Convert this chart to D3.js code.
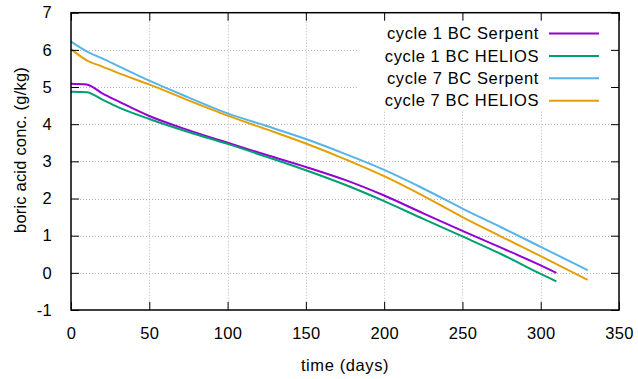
<!DOCTYPE html>
<html>
<head>
<meta charset="utf-8">
<script src="https://cdnjs.cloudflare.com/ajax/libs/d3/7.8.5/d3.min.js"></script>
<style>
body{margin:0;background:#fff}
svg{display:block}
text{font-family:"Liberation Sans",Arial,sans-serif;fill:#000}
</style>
</head>
<body>
<svg width="638" height="379"></svg>
<script>
// days
var c1Days = [0,10,20,30,50,75,100,125,150,175,200,225,250,275,300,310]
var c7Days = [0,10,20,30,50,75,100,125,150,175,200,225,250,275,300,330]

var c1Serpent = [5.09,5.07,4.83,4.62,4.22,3.84,3.5,3.17,2.85,2.5,2.08,1.6,1.13,0.67,0.2,0.0]
var c1Helios  = [4.87,4.86,4.66,4.46,4.14,3.79,3.47,3.12,2.76,2.37,1.93,1.45,0.98,0.5,-0.03,-0.23]
var c7Serpent = [6.22,5.96,5.77,5.57,5.17,4.72,4.29,3.95,3.6,3.2,2.77,2.27,1.73,1.22,0.7,0.07]
var c7Helios  = [6.02,5.72,5.55,5.38,5.07,4.64,4.23,3.86,3.48,3.06,2.6,2.07,1.5,0.97,0.45,-0.19]

var seriesNames = ["cycle 1 BC Serpent","cycle 1 BC HELIOS","cycle 7 BC Serpent","cycle 7 BC HELIOS"]
var seriesColors = ["#9400d3","#009e73","#56b4e9","#e69f00"]

var xTicks = [0,50,100,150,200,250,300,350]
var yTicks = [-1,0,1,2,3,4,5,6,7]

var series = [
	{name: seriesNames[0], color: seriesColors[0], days: c1Days, vals: c1Serpent},
	{name: seriesNames[1], color: seriesColors[1], days: c1Days, vals: c1Helios},
	{name: seriesNames[2], color: seriesColors[2], days: c7Days, vals: c7Serpent},
	{name: seriesNames[3], color: seriesColors[3], days: c7Days, vals: c7Helios}
]

var L = 71, R = 619, T = 12.7, B = 310
var fs = "16.5px"
var svg = d3.select("svg")

var x = d3.scaleLinear().domain([0,350]).range([L,R])
var y = d3.scaleLinear().domain([-1,7]).range([B,T])

// grid
var grid = svg.append("g")
	.attr("stroke","#b8b8b8")
	.attr("stroke-width",1)
	.attr("stroke-dasharray","1,2")
grid.selectAll(".gx").data(xTicks.slice(1,-1)).join("line")
	.attr("x1",d => Math.round(x(d))+0.5).attr("x2",d => Math.round(x(d))+0.5)
	.attr("y1",T).attr("y2",B)
grid.selectAll(".gy").data(yTicks.slice(1,-1)).join("line")
	.attr("y1",d => Math.round(y(d))+0.5).attr("y2",d => Math.round(y(d))+0.5)
	.attr("x1",L).attr("x2",R)

// lines
var line = d3.line().curve(d3.curveMonotoneX).x(d => x(d[0])).y(d => y(d[1]))
svg.append("g").selectAll("path").data(series).join("path")
	.attr("d", s => line(s.days.map((d,i) => [d, s.vals[i]])))
	.attr("fill","none")
	.attr("stroke", s => s.color)
	.attr("stroke-width",2)

// legend (opaque background)
svg.append("rect").attr("x",358).attr("y",21).attr("width",254).attr("height",90).attr("fill","#fff")
var key = svg.append("g")
series.forEach(function(s,i){
	var yy = 33.5 + i*22.4
	key.append("text").attr("x",539).attr("y",yy).attr("dy","0.35em")
		.attr("text-anchor","end").attr("font-size",fs).attr("letter-spacing","0.6px")
		.text(s.name)
	key.append("line").attr("x1",549).attr("x2",599).attr("y1",yy).attr("y2",yy)
		.attr("stroke",s.color).attr("stroke-width",2)
})

// axes with mirrored inward ticks
var tk = 8
var fmt = d => String(d)
var ax = svg.append("g")
ax.append("g").attr("transform","translate(0,"+B+")")
	.call(d3.axisBottom(x).tickValues(xTicks).tickFormat(fmt).tickSizeInner(-tk).tickSizeOuter(0).tickPadding(17))
ax.append("g").attr("transform","translate(0,"+T+")")
	.call(d3.axisTop(x).tickValues(xTicks).tickSizeInner(-tk).tickSizeOuter(0).tickFormat(""))
ax.append("g").attr("transform","translate("+L+",0)")
	.call(d3.axisLeft(y).tickValues(yTicks).tickFormat(fmt).tickSizeInner(-tk).tickSizeOuter(0).tickPadding(19))
ax.append("g").attr("transform","translate("+R+",0)")
	.call(d3.axisRight(y).tickValues(yTicks).tickSizeInner(-tk).tickSizeOuter(0).tickFormat(""))
ax.selectAll(".domain").remove()
ax.selectAll("text").attr("font-size",fs).attr("letter-spacing","0.3px")
	.attr("font-family","'Liberation Sans',Arial,sans-serif")
ax.selectAll("line").attr("stroke","#000")

svg.append("rect").attr("x",L).attr("y",T).attr("width",R-L).attr("height",B-T)
	.attr("fill","none").attr("stroke","#000").attr("stroke-width",1.5)

// axis titles
svg.append("text").attr("x",(L+R)/2).attr("y",371).attr("text-anchor","middle")
	.attr("font-size",fs).attr("letter-spacing","0.6px").text("time (days)")
svg.append("text").attr("transform","translate(26,150) rotate(-90)").attr("text-anchor","middle")
	.attr("font-size",fs).attr("letter-spacing","0.2px").text("boric acid conc. (g/kg)")
</script>
</body>
</html>
